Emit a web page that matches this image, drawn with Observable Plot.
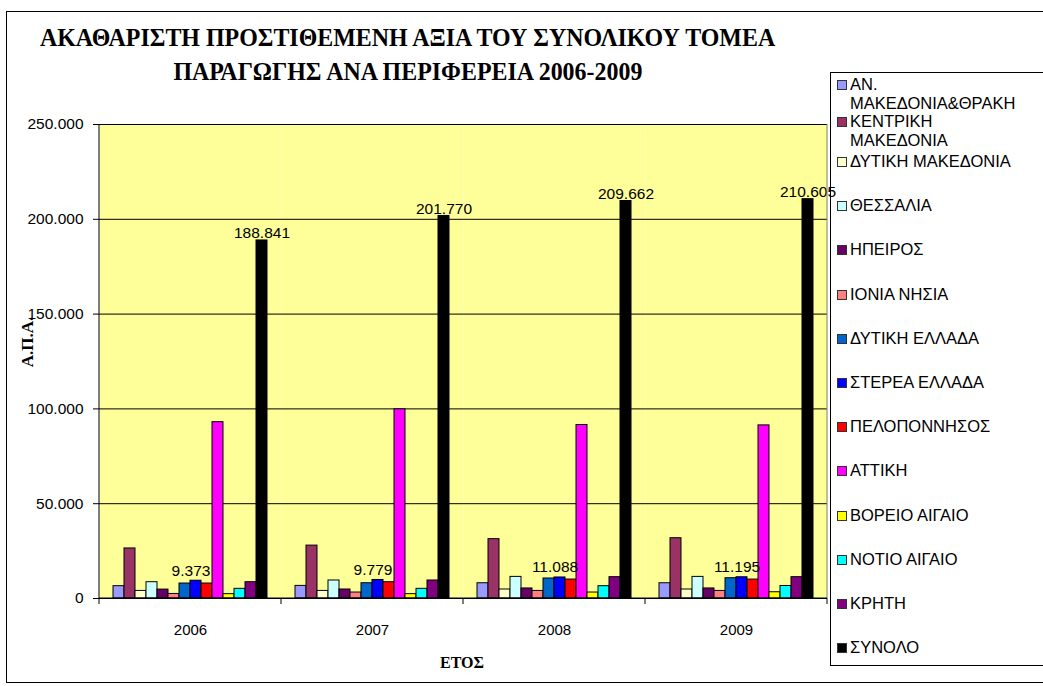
<!DOCTYPE html>
<html>
<head>
<meta charset="utf-8">
<script src="https://cdn.jsdelivr.net/npm/d3@7"></script>
<script src="https://cdn.jsdelivr.net/npm/@observablehq/plot@0.6"></script>
<style>
  body { margin: 0; background: #fff; color: #000; }
  #wrap { position: relative; width: 1043px; height: 686px; overflow: hidden; font-family: "Liberation Sans", Arial, sans-serif; }
  #frame { position: absolute; left: 6px; top: 11px; width: 1100px; height: 672px; border: 1px solid #000; box-sizing: border-box; }
  .bold { font-family: "Liberation Serif", "Times New Roman", serif; font-weight: bold; }
  .title { position: absolute; left: 0; width: 816px; text-align: center; font-size: 26px; line-height: 30px; white-space: nowrap; }
  .title span { display: inline-block; transform: scaleX(0.92); transform-origin: center; }
  #chart { position: absolute; left: 0; top: 90px; }
  #ylab { position: absolute; left: 28px; top: 342px; font-size: 17px; transform: translate(-50%, -50%) rotate(-90deg); white-space: nowrap; }
  #xlab { position: absolute; left: 462px; top: 663px; font-size: 16px; transform: translate(-50%, -50%); }
  #legend { position: absolute; left: 830px; top: 72px; width: 300px; height: 594px; border: 1px solid #000; box-sizing: border-box; padding-top: 2px; }
  .item { position: relative; font-size: 16.5px; line-height: 19px; padding-left: 19px; width: 172px; }
  .item .sw { position: absolute; left: 6px; top: 5px; width: 8px; height: 8px; border: 1px solid #333; }
</style>
</head>
<body>
<div id="wrap">
  <div id="frame"></div>
  <div class="title bold" style="top:23px"><span id="t1"></span></div>
  <div class="title bold" style="top:57px"><span id="t2"></span></div>
  <div id="chart"></div>
  <div id="ylab" class="bold"></div>
  <div id="xlab" class="bold"></div>
  <div id="legend"></div>
</div>
<script>
// ---- data ----
const titleLines = ["ΑΚΑΘΑΡΙΣΤΗ ΠΡΟΣΤΙΘΕΜΕΝΗ ΑΞΙΑ ΤΟΥ ΣΥΝΟΛΙΚΟΥ ΤΟΜΕΑ", "ΠΑΡΑΓΩΓΗΣ ΑΝΑ ΠΕΡΙΦΕΡΕΙΑ 2006-2009"];
const yTitle = "Α.Π.Α.";
const xTitle = "ΕΤΟΣ";
const years = ["2006", "2007", "2008", "2009"];
const regions = [
  "ΑΝ. ΜΑΚΕΔΟΝΙΑ&ΘΡΑΚΗ", "ΚΕΝΤΡΙΚΗ ΜΑΚΕΔΟΝΙΑ", "ΔΥΤΙΚΗ ΜΑΚΕΔΟΝΙΑ", "ΘΕΣΣΑΛΙΑ",
  "ΗΠΕΙΡΟΣ", "ΙΟΝΙΑ ΝΗΣΙΑ", "ΔΥΤΙΚΗ ΕΛΛΑΔΑ", "ΣΤΕΡΕΑ ΕΛΛΑΔΑ", "ΠΕΛΟΠΟΝΝΗΣΟΣ",
  "ΑΤΤΙΚΗ", "ΒΟΡΕΙΟ ΑΙΓΑΙΟ", "ΝΟΤΙΟ ΑΙΓΑΙΟ", "ΚΡΗΤΗ", "ΣΥΝΟΛΟ"
];
const colors = [
  "#9999ff", "#993366", "#ffffcc", "#ccffff", "#660066", "#ff8080", "#0066cc",
  "#0000ff", "#ff0000", "#ff00ff", "#ffff00", "#00ffff", "#800080", "#000000"
];
// values in the order of `regions`
const values2006 = [6500, 26400, 4000, 8600, 4700, 2400, 7900, 9373, 7900, 93000, 2300, 5100, 8600, 188841];
const values2007 = [6650, 27900, 4000, 9500, 4750, 3150, 8050, 9779, 8600, 99800, 2300, 5100, 9500, 201770];
const values2008 = [8050, 31300, 4750, 11400, 5300, 4000, 10550, 11088, 10000, 91500, 3150, 6500, 11250, 209662];
const values2009 = [8050, 31800, 4750, 11400, 5300, 4000, 10700, 11195, 10000, 91300, 3300, 6600, 11250, 210605];
const labelledSeries = ["ΣΤΕΡΕΑ ΕΛΛΑΔΑ", "ΣΥΝΟΛΟ"];
const yTicks = [0, 50000, 100000, 150000, 200000, 250000];

// ---- build ----
const FONT = '"Liberation Sans", Arial, sans-serif';
const valuesByYear = [values2006, values2007, values2008, values2009];
const rows = years.flatMap((yr, i) => regions.map((r, j) => ({year: yr, region: r, value: valuesByYear[i][j]})));
const fmt = d3.formatLocale({decimal: ",", thousands: ".", grouping: [3], currency: ["", "€"]}).format(",");

document.getElementById("t1").textContent = titleLines[0];
document.getElementById("t2").textContent = titleLines[1];
document.getElementById("ylab").textContent = yTitle;
document.getElementById("xlab").textContent = xTitle;

const W = 835, H = 590;
const chart = Plot.plot({
  width: W, height: H,
  marginLeft: 97, marginRight: 7, marginTop: 34, marginBottom: 82,
  style: {fontFamily: FONT, fontSize: "15.5px", color: "#000", background: "transparent", overflow: "visible"},
  fx: {domain: years, padding: 0, label: null},
  x: {domain: regions, paddingInner: 0, paddingOuter: 0.84, axis: null},
  y: {domain: [0, 250000], label: null},
  color: {domain: regions, range: colors},
  marks: [
    Plot.frame({fill: "#ffff99", stroke: null}),
    Plot.gridY(yTicks, {stroke: "#000", strokeOpacity: 1, strokeWidth: 1}),
    Plot.barY(rows, {fx: "year", x: "region", y: "value", fill: "region", stroke: "#000", strokeWidth: 1}),
    Plot.text(rows.filter(d => d.region === labelledSeries[0]), {fx: "year", x: "region", y: "value", text: d => fmt(d.value), lineAnchor: "bottom", dy: -5, dx: -5, fontSize: 15.5}),
    Plot.text(rows.filter(d => d.region === labelledSeries[1]), {fx: "year", x: "region", y: "value", text: d => fmt(d.value), lineAnchor: "bottom", dy: -2, fontSize: 15.5}),
    Plot.axisY(yTicks, {tickSize: 6, tickPadding: 10, tickFormat: fmt, fontSize: 15.5, label: null}),
    Plot.axisFx({anchor: "bottom", tickSize: 0, tickPadding: 26, fontSize: 15, label: null})
  ]
});

// axis lines, plot-area border and category separator ticks, placed with the chart's own scales
const fx = chart.scale("fx"), y = chart.scale("y");
const svg = d3.select(chart);
const x0 = fx.apply(years[0]);
const x1 = fx.apply(years[years.length - 1]) + fx.bandwidth;
const yTop = y.apply(250000), yBase = y.apply(0);
const deco = svg.append("g");
deco.append("line").attr("x1", x1).attr("x2", x1).attr("y1", yTop).attr("y2", yBase).attr("stroke", "#808080");
deco.append("line").attr("x1", x0).attr("x2", x0).attr("y1", yTop).attr("y2", yBase).attr("stroke", "#000");
deco.append("line").attr("x1", x0).attr("x2", x1).attr("y1", yBase).attr("y2", yBase).attr("stroke", "#000");
const seps = years.map(d => fx.apply(d)).concat([x1]);
deco.selectAll(".sep").data(seps).join("line")
  .attr("x1", d => d).attr("x2", d => d).attr("y1", yBase).attr("y2", yBase + 6).attr("stroke", "#000");

document.getElementById("chart").appendChild(chart);

// legend
const rowHeights = [37, 40];
const legend = d3.select("#legend");
regions.forEach((r, i) => {
  const item = legend.append("div").attr("class", "item")
    .style("height", (rowHeights[i] !== undefined ? rowHeights[i] : 44.2) + "px");
  item.append("div").attr("class", "sw").style("background", colors[i]);
  item.append("span").text(r);
});
</script>
</body>
</html>
